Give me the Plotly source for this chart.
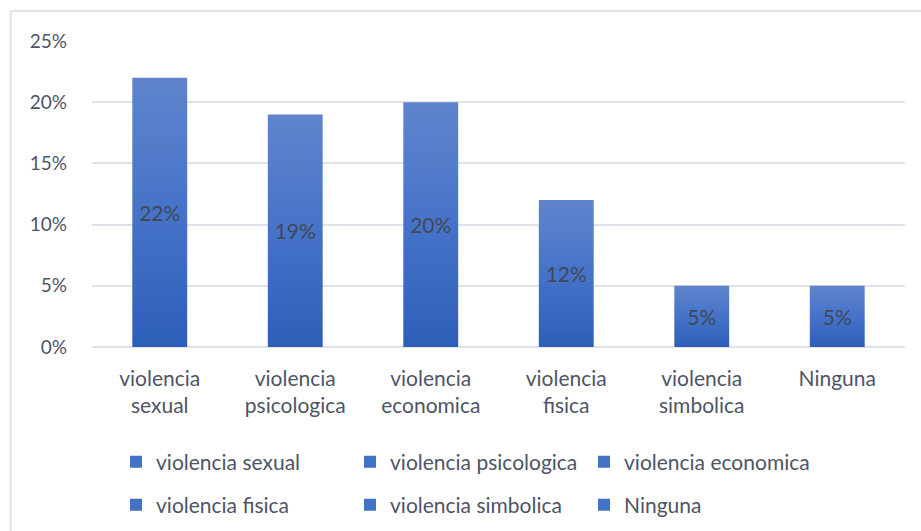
import plotly.graph_objects as go

categories = ["violencia sexual", "violencia psicologica", "violencia economica",
              "violencia fisica", "violencia simbolica", "Ninguna"]
tick_labels = ["violencia<br>sexual", "violencia<br>psicologica", "violencia<br>economica",
               "violencia<br>fisica", "violencia<br>simbolica", "Ninguna"]
values = [0.22, 0.19, 0.20, 0.12, 0.05, 0.05]
y_ticks = [0, 0.05, 0.10, 0.15, 0.20, 0.25]
y_tick_text = ["0%", "5%", "10%", "15%", "20%", "25%"]

FONT = "Lato"
TEXT_COLOR = "#4d5566"
BAR_COLOR = "#4272c6"

fig = go.Figure()
for i, (cat, lab, v) in enumerate(zip(categories, tick_labels, values)):
    fig.add_trace(go.Bar(
        x=[lab], y=[v], name=cat,
        marker=dict(color=BAR_COLOR, line=dict(width=0)),
        text=[f"{round(v*100)}%"], textposition="inside", insidetextanchor="middle",
        textfont=dict(color="#404858", size=21, family=FONT),
        width=0.405,
        legend="legend" if i < 3 else "legend2",
    ))

leg_common = dict(orientation="h", xref="container", yref="container",
                  xanchor="left", yanchor="middle",
                  entrywidth=189, entrywidthmode="pixels", itemclick=False,
                  font=dict(size=21, color=TEXT_COLOR, family=FONT),
                  bgcolor="rgba(0,0,0,0)")

fig.update_layout(
    width=921, height=531,
    margin=dict(l=92, r=16, t=41, b=184, autoexpand=False),
    paper_bgcolor="white", plot_bgcolor="white",
    barmode="overlay",
    font=dict(family=FONT, color=TEXT_COLOR, size=21),
    xaxis=dict(categoryorder="array", categoryarray=tick_labels,
               showgrid=False, showline=False, ticks="", ticklabelstandoff=17,
               tickfont=dict(size=21, color=TEXT_COLOR)),
    yaxis=dict(range=[0, 0.25], tickvals=y_ticks, ticktext=y_tick_text,
               showgrid=True, gridcolor="#dfe2e8", gridwidth=1.5,
               zeroline=True, zerolinecolor="#dfe2e8", zerolinewidth=1.5,
               showline=False, ticks="", ticklabelstandoff=24,
               tickfont=dict(size=19, color=TEXT_COLOR)),
    legend=dict(x=116 / 921, y=1 - 462 / 531, **leg_common),
    legend2=dict(x=116 / 921, y=1 - 505 / 531, **leg_common),
    showlegend=True,
)

fig.add_shape(type="rect", xref="paper", yref="paper",
              x0=-0.1, x1=1.2, y0=-0.8, y1=1.098,
              line=dict(color="#dfe3ea", width=2), fillcolor="rgba(0,0,0,0)", layer="below")

post = """
document.body.style.margin='0px';
(function(){
  var gd = document.getElementById('{plot_id}');
  var svg = gd.querySelector('svg.main-svg');
  var ns = 'http://www.w3.org/2000/svg';
  var defs = svg.querySelector('defs') || svg.insertBefore(document.createElementNS(ns,'defs'), svg.firstChild);
  var g = document.createElementNS(ns,'linearGradient');
  g.setAttribute('id','barGrad'); g.setAttribute('x1','0'); g.setAttribute('y1','0');
  g.setAttribute('x2','0'); g.setAttribute('y2','1');
  [['0','#5f84cc'],['0.5','#4673c8'],['1','#2d5eb8']].forEach(function(s){
    var st = document.createElementNS(ns,'stop');
    st.setAttribute('offset', s[0]); st.setAttribute('stop-color', s[1]);
    g.appendChild(st);
  });
  defs.appendChild(g);
  gd.querySelectorAll('.barlayer .point path').forEach(function(p){ p.style.fill='url(#barGrad)'; });
})();
"""

fig.write_html("out.html", config={"displayModeBar": False}, post_script=post)
